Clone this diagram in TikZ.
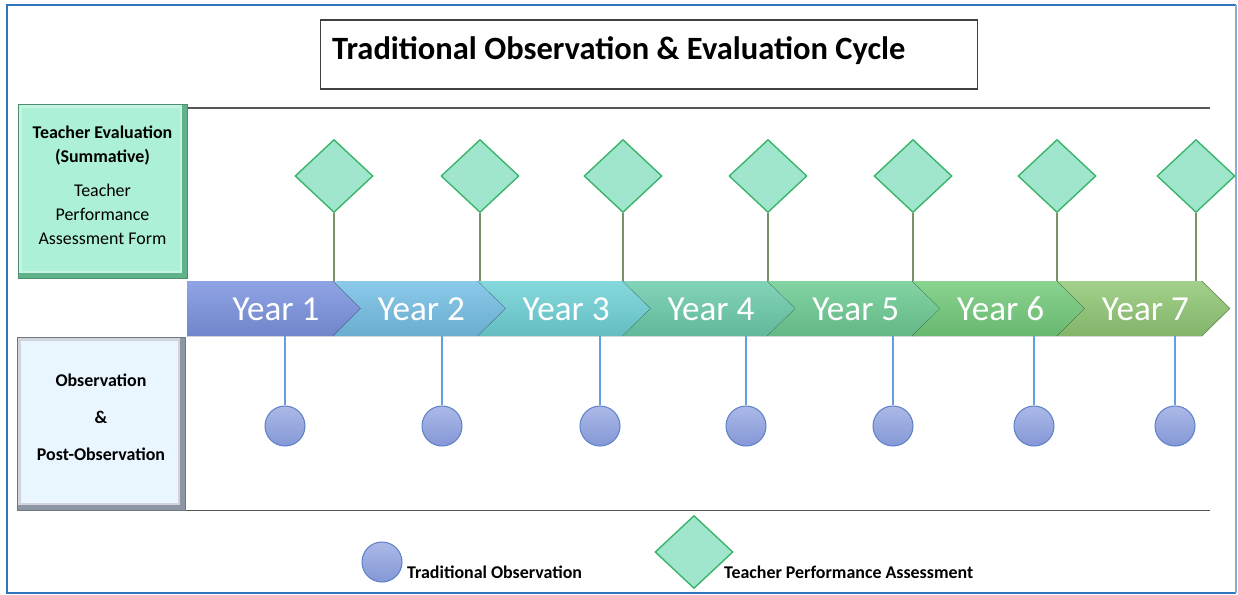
\documentclass[tikz,border=0pt]{standalone}
\usepackage{fontspec}
\setmainfont{Carlito}
\usetikzlibrary{shapes.geometric, positioning, calc}

\definecolor{cFrame}{RGB}{46,117,190}
\definecolor{cFrameLight}{RGB}{140,172,215}
\definecolor{cRule}{RGB}{85,85,85}
\definecolor{cMint}{RGB}{172,240,214}
\definecolor{cMintEdge}{RGB}{96,178,138}
\definecolor{cIce}{RGB}{234,246,255}
\definecolor{cIceEdge}{RGB}{140,150,165}
\definecolor{cDiaFill}{RGB}{160,230,205}
\definecolor{cDiaLine}{RGB}{60,180,110}
\definecolor{cDiaStem}{RGB}{125,145,105}
\definecolor{cDotTop}{RGB}{172,185,232}
\definecolor{cDotBot}{RGB}{132,152,214}
\definecolor{cDotLine}{RGB}{95,130,200}
\definecolor{cDotStem}{RGB}{100,160,225}
\definecolor{cYearA}{RGB}{124,148,224}
\definecolor{cYearB}{RGB}{118,192,230}
\definecolor{cYearC}{RGB}{112,210,215}
\definecolor{cYearD}{RGB}{108,204,172}
\definecolor{cYearE}{RGB}{110,204,148}
\definecolor{cYearF}{RGB}{116,204,124}
\definecolor{cYearG}{RGB}{146,200,118}

\tikzset{
  frame/.style={draw=cFrame, line width=1.6pt},
  rule/.style={draw=cRule, line width=1.1pt},
  titlebox/.style={rectangle, draw=black!75, line width=0.6pt,
                   minimum width=13.16cm, minimum height=1.38cm},
  titletext/.style={font=\fontsize{18.5}{22}\selectfont\bfseries},
  evalbox/.style={rectangle, fill=cMintEdge, draw=cMintEdge!80!black,
                  minimum width=3.38cm, minimum height=3.48cm,
                  path picture={\fill[cMint!70!white]
                    (path picture bounding box.north west) rectangle
                    ([xshift=-3pt,yshift=3pt]path picture bounding box.south east);
                    \fill[cMint]
                    ([xshift=2.5pt,yshift=-2.5pt]path picture bounding box.north west)
                    rectangle ([xshift=-4pt,yshift=4pt]path picture bounding box.south east);}},
  obsbox/.style={rectangle, fill=cIceEdge, draw=cIceEdge!80!black,
                 minimum width=3.36cm, minimum height=3.46cm,
                 path picture={\fill[cIceEdge!40!white]
                   (path picture bounding box.north west) rectangle
                   ([xshift=-3pt,yshift=3pt]path picture bounding box.south east);
                   \fill[cIce]
                   ([xshift=2.5pt,yshift=-2.5pt]path picture bounding box.north west)
                   rectangle ([xshift=-4pt,yshift=4pt]path picture bounding box.south east);}},
  boxtext/.style={align=center, font=\fontsize{10.2}{13.6}\selectfont},
  yearlabel/.style={text=white, font=\fontsize{20}{24}\selectfont},
  assessdia/.style={diamond, draw=cDiaLine, fill=cDiaFill, line width=0.8pt,
                    minimum width=1.56cm, minimum height=1.46cm, inner sep=0pt},
  obsdot/.style={circle, draw=cDotLine, top color=cDotTop, bottom color=cDotBot,
                 line width=0.6pt, minimum size=0.8cm, inner sep=0pt},
  diastem/.style={draw=cDiaStem, line width=0.8pt},
  dotstem/.style={draw=cDotStem, line width=0.6pt},
  keytext/.style={font=\fontsize{10.2}{12}\selectfont\bfseries, anchor=west}
}

\begin{document}
\begin{tikzpicture}[x=0.02cm, y=-0.02cm]
  \useasboundingbox (0,0) rectangle (1238,595);

  % Outer frame
  \draw[frame] (1236,593) -- (7,593) -- (7,5) -- (1236,5);
  \draw[cFrameLight, line width=0.6pt] (1236,5) -- (1236,593);

  % Title
  \node[titlebox] (title) at (649,54.5) {};
  \node[titletext, anchor=west] (titletext) at (326,50.5)
      {Traditional Observation \& Evaluation Cycle};

  % Rows
  \draw[rule] (187,108) -- (1210,108);
  \draw[rule] (185,510.5) -- (1210,510.5);

  % Side labels
  \node[evalbox] (evalbox) at (102.5,191) {};
  \node[boxtext] (evaltext) at (102.5,185)
      {\textbf{Teacher Evaluation}\\\textbf{(Summative)}\\[6pt]Teacher\\Performance\\Assessment Form};
  \node[obsbox] (obsbox) at (101,423.5) {};
  \node[boxtext, font=\fontsize{10.2}{21}\selectfont\bfseries] (obstext) at (101,417.5)
      {Observation\\\&\\Post-Observation};

  % Timeline band
  \coordinate (bandtop) at (0,281);
  \coordinate (bandbot) at (0,336);
  \foreach \i/\col in {1/cYearA,2/cYearB,3/cYearC,4/cYearD,5/cYearE,6/cYearF,7/cYearG} {
    \pgfmathsetmacro\s{333+(\i-1)*144.8}
    \pgfmathsetmacro\l{\i==1 ? 187 : \s-144.8}
    \pgfmathsetmacro\n{\i==1 ? 0 : 28}
    \fill[top color=\col!85!white, bottom color=\col!90!black]
      (\l,281) -- (\s,281) -- (\s+28,308.5) -- (\s,336) -- (\l,336) -- (\l+\n,308.5) -- cycle;
    \draw[\col!70!black, line width=0.5pt, opacity=0.6]
      (\s,281) -- (\s+28,308.5) -- (\s,336);
    \node[yearlabel] (year\i) at ({(\l+\s)/2+16},309) {Year \i};
  }

  % Assessments
  \foreach \i/\x in {1/334,2/480,3/623,4/768,5/913,6/1057,7/1196} {
    \node[assessdia] (dia\i) at (\x,176) {};
    \draw[diastem] (dia\i.south) -- (dia\i.south |- bandtop);
  }

  % Observations
  \foreach \i/\x in {1/285,2/442,3/600,4/746,5/893,6/1034,7/1175} {
    \node[obsdot] (dot\i) at (\x,426) {};
    \draw[dotstem] (dot\i.north) -- (dot\i.north |- bandbot);
  }

  % Legend
  \node[obsdot] (keydot) at (382,562) {};
  \node[keytext] (keyobs) at (401,572) {Traditional Observation};
  \node[assessdia] (keydia) at (694,552) {};
  \node[keytext] (keytpa) at (718,572) {Teacher Performance Assessment};

\end{tikzpicture}
\end{document}
